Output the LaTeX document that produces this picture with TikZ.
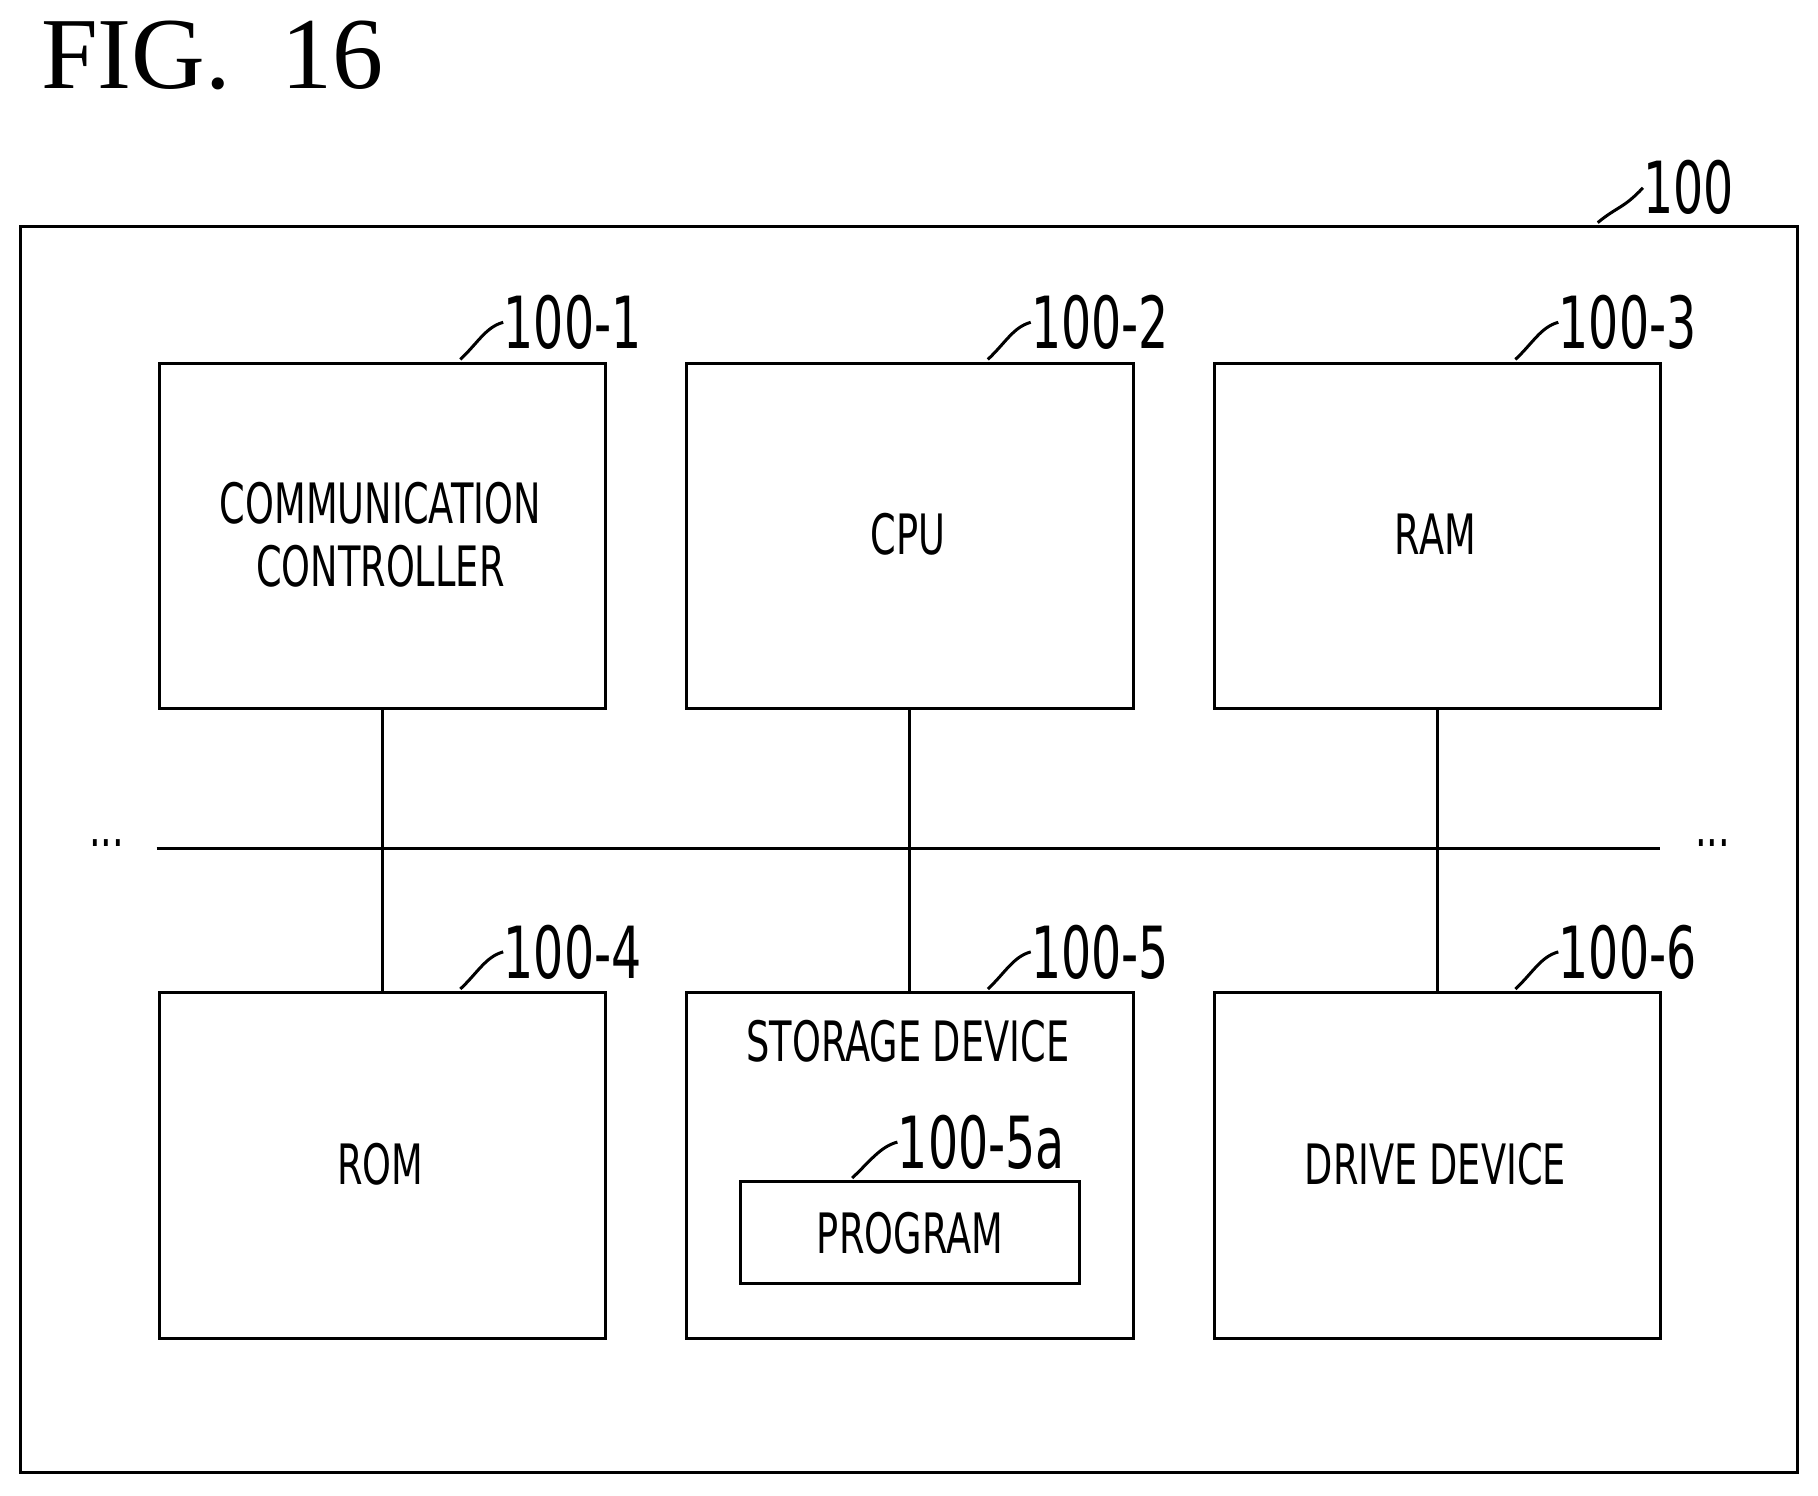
\documentclass[tikz,border=0pt]{standalone}
\usepackage{fontspec}
\setmainfont{Liberation Serif}
\newfontfamily\lab[FakeStretch=0.66]{DejaVu Sans}
\usetikzlibrary{calc}
\begin{document}
\begin{tikzpicture}[x=0.5pt,y=-0.5pt,
  box/.style={draw,line width=1.3pt,inner sep=0pt},
  txt/.style={font=\lab\fontsize{24}{27}\selectfont,align=center},
  num/.style={font=\lab\fontsize{31}{31}\selectfont,inner sep=0pt,anchor=west},
  ln/.style={line width=1.3pt}]
\useasboundingbox (0,0) rectangle (1568,1290);
\node[anchor=north west,inner sep=0pt,font=\fontsize{44}{44}\selectfont] (fig) at (35,18) {FIG.\ \ 16};
\draw[box] (18,195) rectangle (1550,1270);
\coordinate (o1) at (1378,192);
\node[num] (n100) at (1417,162) {100};
\draw[ln] (o1) .. controls (1395,178) and (1400,180) .. (n100.west);
\newcommand{\mybox}[6]{%
  \node[box,minimum width=192.5pt,minimum height=149pt,anchor=north west] (#1) at (#2,#3) {};
  \coordinate (#1l) at ($(#2,#3)+(261,-2)$);
  \node[num] (#1n) at ($(#2,#3)+(298,-34)$) {#4};
  \draw[ln] (#1l) .. controls +(15,-14) and +(-15,4) .. (#1n.west);
  \node[txt] (#1t) at ($(#2,#3)+(192,#6)$) {#5};}
\mybox{a}{136}{312}{100-1}{COMMUNICATION\\CONTROLLER}{149}
\mybox{b}{591}{312}{100-2}{CPU}{149}
\mybox{c}{1046}{312}{100-3}{RAM}{149}
\mybox{d}{136}{855}{100-4}{ROM}{149}
\mybox{e}{591}{855}{100-5}{STORAGE DEVICE}{43}
\mybox{f}{1046}{855}{100-6}{DRIVE DEVICE}{149}
\node[box,minimum width=146.5pt,minimum height=44pt,anchor=north west] (p) at (637,1018) {};
\node[txt] (pt) at (p.center) {PROGRAM};
\coordinate (pl) at (735,1016);
\node[num] (pn) at (774,985) {100-5a};
\draw[ln] (pl) .. controls +(15,-14) and +(-15,4) .. (pn.west);
\coordinate (bl) at (135,732); \coordinate (br) at (1432,732);
\draw[ln] (bl) -- (br);
\node[font=\lab\fontsize{24}{24}\selectfont] (dl) at (92,727) {...};
\node[font=\lab\fontsize{24}{24}\selectfont] (dr) at (1477,727) {...};
\draw[ln] (a.south) -- (d.north);
\draw[ln] (b.south) -- (e.north);
\draw[ln] (c.south) -- (f.north);
\end{tikzpicture}
\end{document}
